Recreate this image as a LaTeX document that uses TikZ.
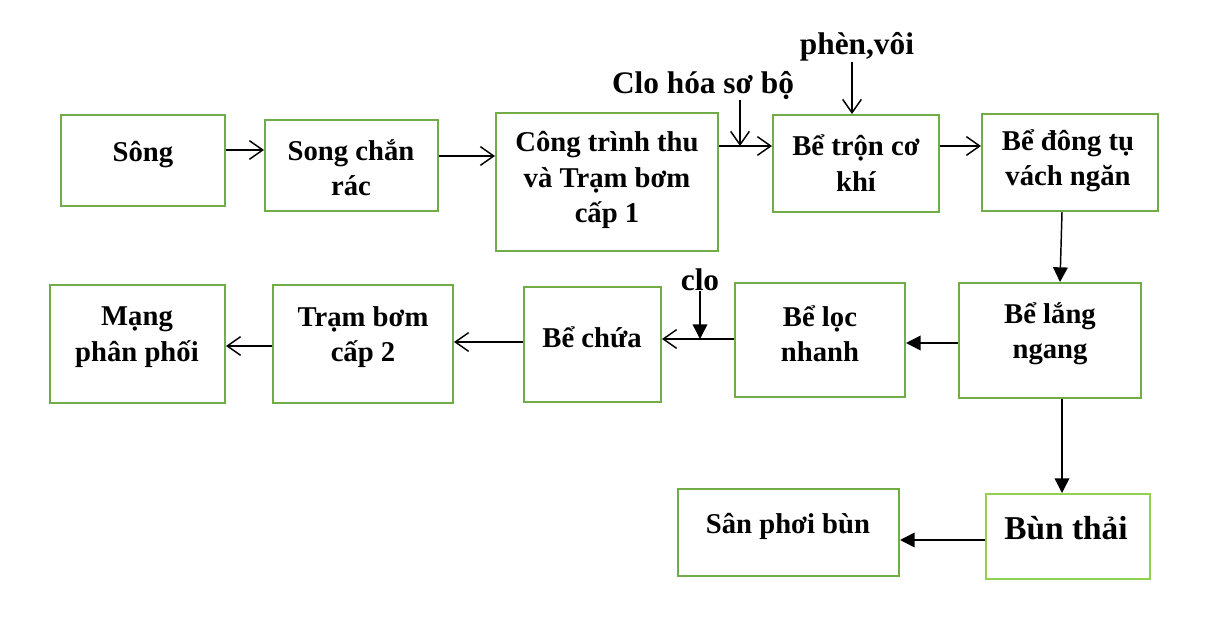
\documentclass[tikz,border=0pt]{standalone}
\usepackage{fontspec}
\setmainfont{Liberation Serif}
\usetikzlibrary{arrows.meta,fit}
\definecolor{boxgreen}{HTML}{70AD47}
\definecolor{mudgreen}{HTML}{92D050}

\begin{document}
\begin{tikzpicture}[x=0.75pt, y=-0.75pt,
  box/.style={draw=boxgreen, line width=1.5pt, inner sep=0pt},
  txt/.style={align=center, inner sep=0pt, font=\fontsize{21.5}{26.5}\selectfont\bfseries},
  note/.style={inner sep=0pt, font=\fontsize{23.5}{28}\selectfont\bfseries},
  flow/.style={-{Straight Barb[length=10pt,width=14pt]}, line width=1.1pt},
  solidflow/.style={-{Triangle[length=11pt,width=11pt]}, line width=1.1pt}]
\useasboundingbox (0,0) rectangle (1209,623);

% Row 1
\node[box, fit={(61,115) (225,206)}] (song) {};
\node[box, fit={(265,120) (438,211)}] (chan) {};
\node[box, fit={(496,113) (718,251)}] (ctthu) {};
\node[box, fit={(773,115) (939,212)}] (tron) {};
\node[box, fit={(982,114) (1158,211)}] (dongtu) {};
\node[txt] (tsong) at (143,155) {Sông};
\node[txt] (tchan) at (351,168) {Song chắn\\rác};
\node[txt] (tctthu) at (607,180) {Công trình thu\\và Trạm bơm\\cấp 1};
\node[txt] (ttron) at (856,163) {Bể trộn cơ\\khí};
\node[txt] (tdongtu) at (1068,161) {Bể đông tụ\\vách ngăn};

% Row 2
\node[box, fit={(50,285) (225,403)}] (mang) {};
\node[box, fit={(273,285) (453,403)}] (bom2) {};
\node[box, fit={(524,287) (661,402)}] (chua) {};
\node[box, fit={(735,283) (905,397)}] (loc) {};
\node[box, fit={(959,283) (1141,398)}] (lang) {};
\node[txt] (tmang) at (137,337) {Mạng\\phân phối};
\node[txt] (tbom2) at (363,337) {Trạm bơm\\cấp 2};
\node[txt] (tchua) at (592,337) {Bể chứa};
\node[txt] (tloc) at (820,334) {Bể lọc\\nhanh};
\node[txt] (tlang) at (1050,334) {Bể lắng\\ngang};

% Row 3
\node[box, fit={(678,489) (899,576)}] (san) {};
\node[box, draw=mudgreen, fit={(986,494) (1150,579)}] (bun) {};
\node[txt] (tsan) at (788,526) {Sân phơi bùn};
\node[txt, font=\fontsize{25}{30}\selectfont\bfseries] (tbun) at (1066,528) {Bùn thải};

% Chemicals
\node[note] (clohoa) at (703,86) {Clo hóa sơ bộ};
\node[note] (phen) at (857,47) {phèn,vôi};
\node[note] (clo) at (700,280) {clo};
\coordinate (join1) at (740,146);
\coordinate (join2) at (700,339);

% Flow arrows
\draw[flow] (song.east |- 0,150) -- (chan.west |- 0,150);
\draw[flow] (chan.east |- 0,156) -- (ctthu.west |- 0,156);
\draw[flow] (ctthu.east |- 0,146) -- (tron.west |- 0,146);
\draw[flow] (clohoa.south -| join1) -- (join1);
\draw[flow] (phen.south -| 852,0) -- (tron.north -| 852,0);
\draw[flow] (tron.east |- 0,146) -- (dongtu.west |- 0,146);
\draw[solidflow] (dongtu.south -| 1062,0) -- (lang.north -| 1060,0);
\draw[solidflow] (lang.west |- 0,343) -- (loc.east |- 0,343);
\draw[flow] (loc.west |- 0,339) -- (chua.east |- 0,339);
\draw[solidflow] (clo.south) -- (join2);
\draw[flow] (chua.west |- 0,342) -- (bom2.east |- 0,342);
\draw[flow] (bom2.west |- 0,346) -- (mang.east |- 0,346);
\draw[solidflow] (lang.south -| 1062,0) -- (bun.north -| 1062,0);
\draw[solidflow] (bun.west |- 0,540) -- (san.east |- 0,540);
\end{tikzpicture}
\end{document}
